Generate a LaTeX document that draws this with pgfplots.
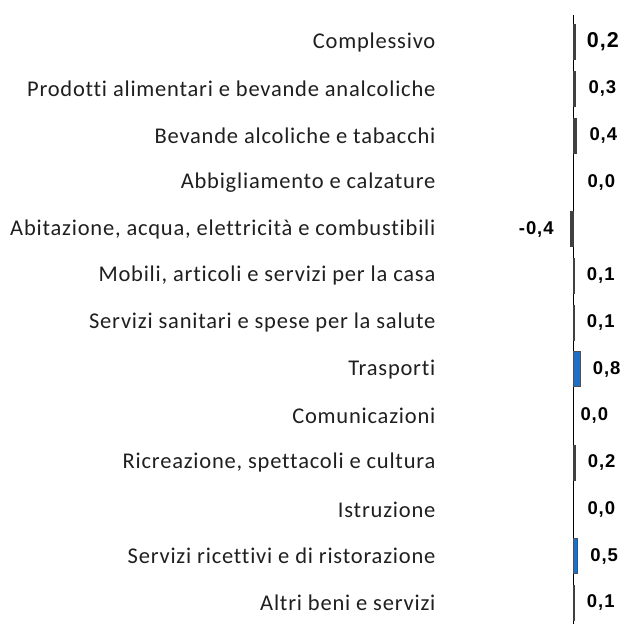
\documentclass[border=0pt]{standalone}
\usepackage{fontspec}
\setmainfont{Carlito}[Ligatures=NoCommon, LetterSpace=3.5]
\newfontfamily\valfont{Liberation Sans}[LetterSpace=5]
\usepackage{pgfplots}
\pgfplotsset{compat=1.18}
\usepackage{pgfplotstable}
\definecolor{bargray}{HTML}{404040}
\definecolor{barblue}{HTML}{1F6FC4}
\definecolor{bordgray}{HTML}{505050}

\pgfplotstableread{
i v lab
0 0.2 {0,2}
}\tcompl
\pgfplotstableread{
i v lab
1 0.3 {0,3}
2 0.4 {0,4}
5 0.1 {0,1}
6 0.1 {0,1}
9 0.2 {0,2}
12 0.1 {0,1}
}\tgray
\pgfplotstableread{
i v lab
3 0.0 {0,0}
10 0.0 {0,0}
}\tzero
\pgfplotstableread{
i v lab
8 0.0 {0,0}
}\tcomm
\pgfplotstableread{
i v lab
4 -0.4 {-0,4}
}\tneg
\pgfplotstableread{
i v lab
7 0.8 {0,8}
11 0.5 {0,5}
}\tblue

\begin{document}
\begin{tikzpicture}
\begin{axis}[
  scale only axis,
  width=184pt, height=609pt,
  xmin=-15.65, xmax=6.1,
  ymin=-0.58, ymax=12.45,
  y dir=reverse,
  axis line style={draw=none},
  major tick length=0pt,
  xtick=\empty,
  ytick={0,...,12},
  yticklabels={
    Complessivo,
    Prodotti alimentari e bevande analcoliche,
    Bevande alcoliche e tabacchi,
    Abbigliamento e calzature,
    {Abitazione, acqua, elettricità e combustibili},
    {Mobili, articoli e servizi per la casa},
    Servizi sanitari e spese per la salute,
    Trasporti,
    Comunicazioni,
    {Ricreazione, spettacoli e cultura},
    Istruzione,
    Servizi ricettivi e di ristorazione,
    Altri beni e servizi},
  yticklabel style={font=\fontsize{22.5}{24}\selectfont, color=black!88, xshift=-2pt},
  clip=false,
  point meta=explicit symbolic,
  every node near coord/.append style={inner sep=0pt, font=\valfont\bfseries\fontsize{18.5}{20}\selectfont, color=black},
]
\addplot[black, line width=0.9pt, forget plot] coordinates {(0,-0.58) (0,12.45)};
\addplot[xbar, bar width=35pt, bar shift=0pt, fill=bargray, draw=bargray, line width=0.7pt, nodes near coords,
  every node near coord/.append style={anchor=west, xshift=11.5pt, font=\valfont\bfseries\fontsize{21.5}{23}\selectfont}]
  table[x=v, y=i, meta=lab] {\tcompl};
\addplot[xbar, bar width=35pt, bar shift=0pt, fill=bargray, draw=bargray, line width=0.7pt, nodes near coords,
  every node near coord/.append style={anchor=west, xshift=12.5pt}]
  table[x=v, y=i, meta=lab] {\tgray};
\addplot[xbar, bar width=35pt, bar shift=0pt, fill=none, draw=none, nodes near coords,
  every node near coord/.append style={anchor=west, xshift=14pt}]
  table[x=v, y=i, meta=lab] {\tzero};
\addplot[xbar, bar width=35pt, bar shift=0pt, fill=none, draw=none, nodes near coords,
  every node near coord/.append style={anchor=west, xshift=7pt}]
  table[x=v, y=i, meta=lab] {\tcomm};
\addplot[xbar, bar width=35pt, bar shift=0pt, fill=bargray, draw=bargray, line width=0.7pt, nodes near coords,
  every node near coord/.append style={anchor=east, xshift=-16pt}]
  table[x=v, y=i, meta=lab] {\tneg};
\addplot[xbar, bar width=35pt, bar shift=0pt, fill=barblue, draw=bordgray, line width=0.8pt, nodes near coords,
  every node near coord/.append style={anchor=west, xshift=12.5pt}]
  table[x=v, y=i, meta=lab] {\tblue};
\end{axis}
\path (-441pt,0pt) rectangle (184pt,624pt);
\end{tikzpicture}
\end{document}
